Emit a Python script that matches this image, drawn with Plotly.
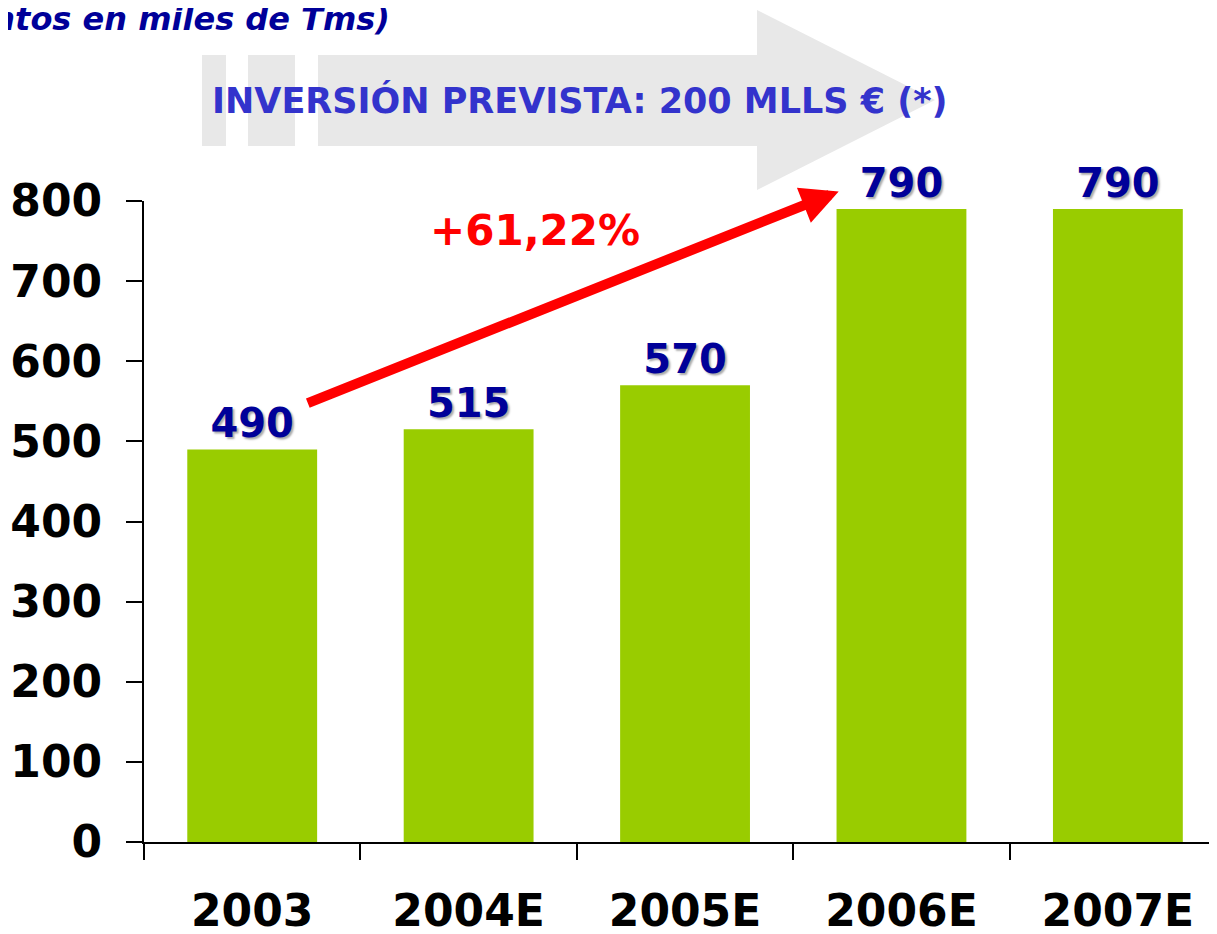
import plotly.graph_objects as go

categories = ["2003", "2004E", "2005E", "2006E", "2007E"]
values = [490, 515, 570, 790, 790]
y_ticks = [0, 100, 200, 300, 400, 500, 600, 700, 800]
growth_label = "+61,22%"
banner_text = "INVERSIÓN PREVISTA: 200 MLLS € (*)"
subtitle = "(Movimientos en miles de Tms)"

FONT = "DejaVu Sans"

# the page body adds an 8px margin; compensate so the picture lines up
OFF = 8
W, H = 1217 - OFF, 934 - OFF
L, R, T, B = 144 - OFF, 0, 201 - OFF, 934 - 842

fig = go.Figure()
fig.add_trace(go.Bar(
    x=categories, y=values,
    marker=dict(color="#99cc00", line=dict(width=0)),
    text=values, texttemplate="%{text}", textposition="outside",
    textfont=dict(family=FONT, size=40, color="#000099", weight="bold",
                  shadow="2px 2px 2px #aaaaaa"),
    constraintext="none", cliponaxis=False, width=0.6,
))

def px(x):
    return (x - OFF - L) / (W - L - R)
def py(y):
    return 1 - (y - OFF - T) / (H - T - B)

shapes = []
grey = "#e8e8e8"
for x0, x1 in [(202, 226), (248, 295), (318, 760)]:
    shapes.append(dict(type="rect", xref="paper", yref="paper",
                       x0=px(x0), x1=px(x1), y0=py(146), y1=py(55),
                       fillcolor=grey, line=dict(width=0), layer="below"))
path = f"M {px(757)} {py(10)} L {px(935)} {py(100)} L {px(757)} {py(190)} Z"
shapes.append(dict(type="path", xref="paper", yref="paper", path=path,
                   fillcolor=grey, line=dict(width=0), layer="below"))

annotations = [
    dict(text=banner_text, xref="paper", yref="paper", x=px(580), y=py(101),
         showarrow=False, xanchor="center", yanchor="middle",
         font=dict(family=FONT, size=35, color="#3333cc", weight="bold")),
    dict(text=subtitle, xref="paper", yref="paper", x=px(392), y=py(40),
         showarrow=False, xanchor="right", yanchor="bottom",
         font=dict(family=FONT, size=32, color="#000099", weight="bold", style="italic")),
    dict(text=growth_label, xref="paper", yref="paper", x=px(535), y=py(230),
         showarrow=False, xanchor="center", yanchor="middle",
         font=dict(family=FONT, size=42, color="#ff0000", weight="bold")),
    dict(x=2.71, y=812, ax=0.25, ay=547, xref="x", yref="y", axref="x", ayref="y",
         text="", showarrow=True, arrowhead=2, arrowsize=0.75, arrowwidth=10,
         arrowcolor="#ff0000", standoff=0),
]

fig.update_layout(
    width=W, height=H,
    margin=dict(l=L, r=R, t=T, b=B, autoexpand=False),
    plot_bgcolor="white", paper_bgcolor="white",
    showlegend=False, bargap=0.4,
    shapes=shapes, annotations=annotations,
    font=dict(family=FONT),
)
fig.update_xaxes(
    type="category", range=[-0.5, 4.458],
    tickson="boundaries", ticks="outside", ticklen=16, tickwidth=2, tickcolor="black",
    showline=True, linecolor="black", linewidth=2, showgrid=False,
    tickfont=dict(family=FONT, size=44, color="black", weight="bold"),
    ticklabelstandoff=29,
)
fig.update_yaxes(
    range=[0, 800], tickvals=y_ticks, ticks="outside", ticklen=16, tickwidth=2,
    tickcolor="black", showline=True, linecolor="black", linewidth=2,
    showgrid=False, zeroline=False,
    tickfont=dict(family=FONT, size=44, color="black", weight="bold"),
    ticklabelstandoff=15,
)

fig.write_html("out.html")
